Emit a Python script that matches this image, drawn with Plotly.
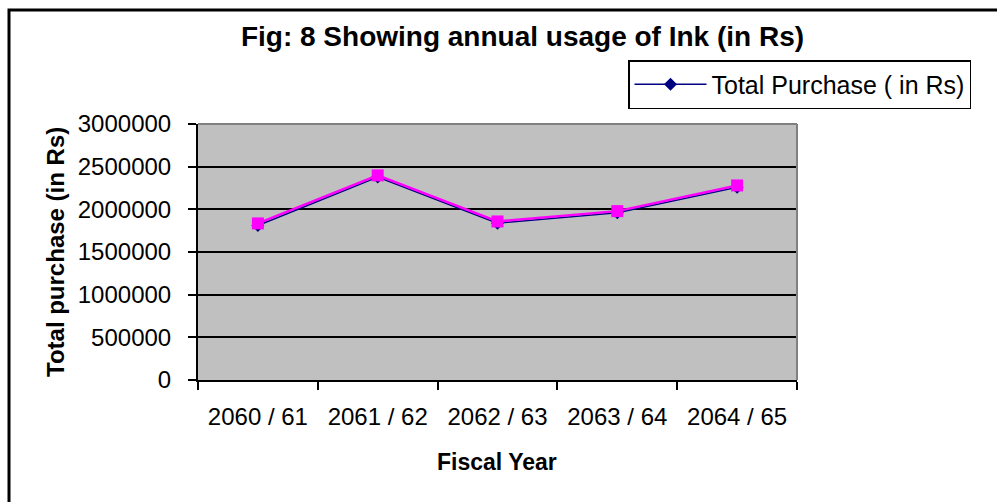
import plotly.graph_objects as go

categories = ["2060 / 61", "2061 / 62", "2062 / 63", "2063 / 64", "2064 / 65"]
purchase = [1811000, 2378000, 1838000, 1960000, 2260000]
purchase_overlay = [1835000, 2398000, 1858000, 1979000, 2280000]
y_ticks = [0, 500000, 1000000, 1500000, 2000000, 2500000, 3000000]

W, H = 997, 502
L, R, T, B = 198, 997 - 797, 124, 502 - 380
pw, ph = W - L - R, H - T - B


def px_x(x):
    return (x - L) / pw


def px_y(y):
    return (H - B - y) / ph


FONT = "Liberation Sans, Arial, sans-serif"

fig = go.Figure()
fig.add_trace(go.Scatter(
    x=categories, y=purchase, mode="lines+markers",
    name="Total Purchase ( in Rs)",
    line=dict(color="#000080", width=1.5),
    marker=dict(symbol="diamond", size=10, color="#000080"),
))
fig.add_trace(go.Scatter(
    x=categories, y=purchase_overlay, mode="lines+markers",
    showlegend=False,
    line=dict(color="#FF00FF", width=2.5),
    marker=dict(symbol="square", size=12, color="#FF00FF"),
))

fig.update_layout(
    width=W, height=H, autosize=False,
    margin=dict(l=L, r=R, t=T, b=B, pad=0),
    paper_bgcolor="white", plot_bgcolor="#C0C0C0",
    font=dict(family=FONT, size=23, color="black"),
    title=dict(text="<b>Fig: 8 Showing annual usage of Ink (in Rs)</b>",
               font=dict(family=FONT, size=28, color="black"),
               x=(231 + 814) / 2 / W, xanchor="center",
               y=1 - 36 / H, yanchor="middle", yref="container"),
    showlegend=True,
    legend=dict(x=px_x(628), y=px_y(60), xanchor="left", yanchor="top",
                bordercolor="black", borderwidth=1.5, bgcolor="white",
                font=dict(family=FONT, size=25, color="black"),
                itemwidth=72, tracegroupgap=0),
    xaxis=dict(type="category", range=[-0.5, 4.5], showgrid=False,
               showline=True, linecolor="black", linewidth=2,
               ticks="outside", tickson="boundaries", ticklen=8,
               tickwidth=2, tickcolor="black", ticklabelstandoff=14,
               tickfont=dict(family=FONT, size=24, color="black"),
               zeroline=False, fixedrange=True),
    yaxis=dict(range=[0, 3000000], tickvals=y_ticks,
               ticktext=[str(v) for v in y_ticks],
               showgrid=True, gridcolor="black", gridwidth=2,
               showline=True, linecolor="black", linewidth=2,
               ticks="outside", ticklen=8, tickwidth=2, tickcolor="black",
               ticklabelstandoff=12,
               tickfont=dict(family=FONT, size=24, color="black"),
               zeroline=False, fixedrange=True),
    annotations=[
        dict(text="<b>Total purchase (in Rs)</b>", xref="paper", yref="paper",
             x=px_x(55), y=0.5, textangle=-90, showarrow=False,
             xanchor="center", yanchor="middle",
             font=dict(family=FONT, size=24, color="black")),
        dict(text="<b>Fiscal Year</b>", xref="paper", yref="paper",
             x=px_x(497), y=px_y(462), showarrow=False,
             xanchor="center", yanchor="middle",
             font=dict(family=FONT, size=23, color="black")),
    ],
    shapes=[
        dict(type="line", xref="paper", yref="paper", x0=0, x1=1, y0=1, y1=1,
             line=dict(color="#808080", width=2), layer="above"),
        dict(type="line", xref="paper", yref="paper", x0=1, x1=1, y0=0, y1=1,
             line=dict(color="#808080", width=2), layer="above"),
        dict(type="rect", xref="paper", yref="paper",
             x0=px_x(9), x1=px_x(1005), y0=px_y(10), y1=px_y(510),
             line=dict(color="black", width=3), layer="above"),
    ],
)

fig.write_html("out.html")
